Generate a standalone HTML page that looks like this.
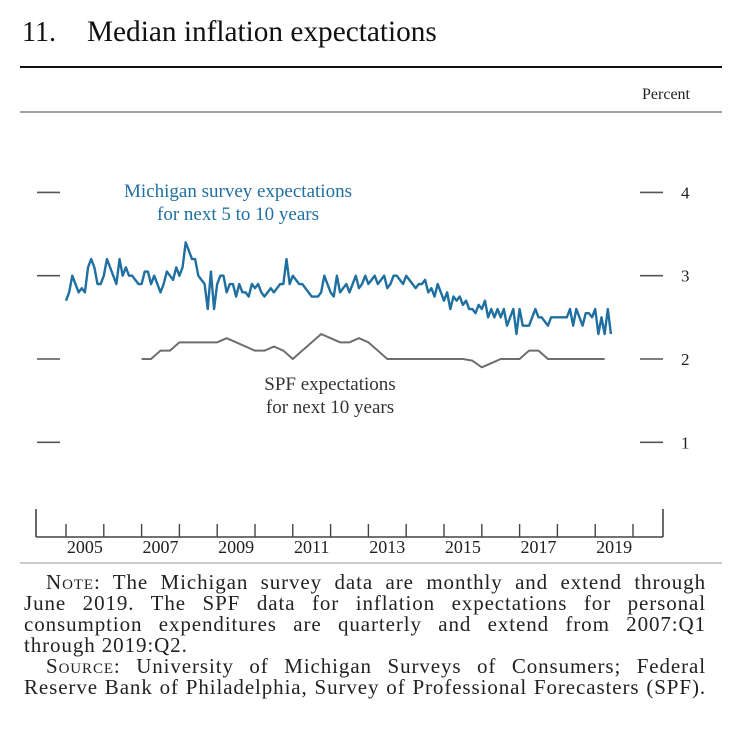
<!DOCTYPE html>
<html><head><meta charset="utf-8"><style>
body{margin:0;background:#fff;width:742px;height:742px;overflow:hidden;font-family:"Liberation Serif",serif;}
#note{position:absolute;left:24px;top:572px;width:682px;font-size:21px;line-height:21px;letter-spacing:0.9px;color:#222;}
#note div{text-align:justify;text-align-last:justify;white-space:nowrap;}
#note div.ind{padding-left:22px;}
#note div.last{text-align-last:left;}
.sc{font-variant:small-caps;}
</style></head><body>
<svg width="742" height="742" style="position:absolute;left:0;top:0">
<text x="22" y="41" font-size="28" fill="#111" font-family="Liberation Serif">11.</text>
<text x="87" y="41" font-size="29.3" fill="#111" font-family="Liberation Serif">Median inflation expectations</text>
<line x1="20" y1="67" x2="722" y2="67" stroke="#111" stroke-width="2"/>
<line x1="20" y1="112" x2="722" y2="112" stroke="#444" stroke-width="1"/>
<text x="690" y="99" font-size="16" text-anchor="end" fill="#222">Percent</text>
<g id="yaxis"></g>
<g id="xaxis"></g>
<g id="series"></g>
<text x="238" y="197" font-size="19" text-anchor="middle" fill="#1f6fa0">Michigan survey expectations</text>
<text x="238" y="220" font-size="19" text-anchor="middle" fill="#1f6fa0">for next 5 to 10 years</text>
<text x="330" y="390" font-size="19" text-anchor="middle" fill="#333">SPF expectations</text>
<text x="330" y="413" font-size="19" text-anchor="middle" fill="#333">for next 10 years</text>
<line x1="20" y1="563" x2="722" y2="563" stroke="#bbb" stroke-width="1.5"/>
</svg>
<div id="note">
<div class="ind"><span class="sc">Note</span>: The Michigan survey data are monthly and extend through</div>
<div>June 2019. The SPF data for inflation expectations for personal</div>
<div>consumption expenditures are quarterly and extend from 2007:Q1</div>
<div class="last">through 2019:Q2.</div>
<div class="ind"><span class="sc">Source</span>: University of Michigan Surveys of Consumers; Federal</div>
<div>Reserve Bank of Philadelphia, Survey of Professional Forecasters (SPF).</div>
</div>
<script>
const yTicks=[1,2,3,4];
const yearLabels=[2005,2007,2009,2011,2013,2015,2017,2019];
const michigan=[
2.7,2.8,3.0,2.9,2.8,2.85,2.8,3.1,3.2,3.1,2.9,2.9,
3.0,3.2,3.1,3.0,2.9,3.2,3.0,3.1,3.0,3.0,2.95,2.9,
2.9,3.05,3.05,2.9,3.0,2.9,2.8,2.9,3.05,3.0,2.95,3.1,
3.0,3.1,3.4,3.3,3.2,3.2,3.0,2.95,2.9,2.6,3.05,2.6,
2.9,3.0,3.0,2.8,2.9,2.9,2.75,2.9,2.8,2.8,2.75,2.9,
2.85,2.9,2.8,2.75,2.8,2.85,2.8,2.85,2.9,2.9,3.2,2.9,
3.0,2.95,2.9,2.9,2.85,2.8,2.75,2.75,2.75,2.8,3.0,2.9,
2.8,2.75,3.0,2.8,2.85,2.9,2.8,2.9,3.0,2.85,2.9,3.0,
2.9,2.95,3.0,2.9,2.95,3.0,2.85,2.9,3.0,3.0,2.95,2.9,
3.0,2.95,2.9,2.85,2.9,2.9,2.95,2.8,2.85,2.75,2.9,2.8,
2.7,2.8,2.6,2.75,2.7,2.75,2.65,2.7,2.6,2.6,2.55,2.65,
2.6,2.7,2.5,2.6,2.5,2.6,2.5,2.6,2.4,2.5,2.6,2.3,
2.6,2.4,2.4,2.4,2.5,2.6,2.5,2.5,2.45,2.4,2.5,2.5,
2.5,2.5,2.5,2.5,2.6,2.4,2.6,2.5,2.4,2.55,2.55,2.5,
2.6,2.3,2.5,2.3,2.6,2.3];
const spf=[
2.0,2.0,2.1,2.1, 2.2,2.2,2.2,2.2, 2.2,2.25,2.2,2.15, 2.1,2.1,2.15,2.1,
2.0,2.1,2.2,2.3, 2.25,2.2,2.2,2.25, 2.2,2.1,2.0,2.0, 2.0,2.0,2.0,2.0,
2.0,2.0,2.0,1.98, 1.9,1.95,2.0,2.0, 2.0,2.1,2.1,2.0, 2.0,2.0,2.0,2.0, 2.0,2.0];
const NS='http://www.w3.org/2000/svg';
function X(t){return 66+(t-2005)*37.8;}
function Y(v){return 359-(v-2)*83.3;}
function mk(tag,attrs,parent){const e=document.createElementNS(NS,tag);for(const k in attrs)e.setAttribute(k,attrs[k]);parent.appendChild(e);return e;}
const ya=document.getElementById('yaxis');
yTicks.forEach(v=>{
  let l=mk('line',{x1:37,x2:60,y1:Y(v),y2:Y(v),stroke:'#555','stroke-width':1.6},ya);
  
  
  let r=mk('line',{x1:640,x2:663,y1:Y(v),y2:Y(v),stroke:'#555','stroke-width':1.6},ya);
  
  
  let t=mk('text',{x:681,y:Y(v)+6,'font-size':17,fill:'#222'},ya);t.textContent=v;
  
  
});
const xa=document.getElementById('xaxis');
let base=mk('line',{x1:36,x2:663,y1:537,y2:537,stroke:'#444','stroke-width':1.6},xa);


[36,663].forEach((x,i)=>{let e=mk('line',{x1:x,x2:x,y1:537,y2:509,stroke:'#444','stroke-width':1.6},xa);

});
for(let y=2005;y<=2020;y++){let e=mk('line',{x1:X(y),x2:X(y),y1:537,y2:524,stroke:'#444','stroke-width':1.4},xa);

}
yearLabels.forEach(y=>{let t=mk('text',{x:X(y+0.5),y:553,'font-size':18,'text-anchor':'middle',fill:'#222'},xa);t.textContent=y;

});
const sg=document.getElementById('series');
let p1=mk('polyline',{points:michigan.map((v,i)=>X(2005+i/12)+','+Y(v)).join(' '),fill:'none',stroke:'#1f6fa0','stroke-width':2.4,'stroke-linejoin':'round'},sg);


let p2=mk('polyline',{points:spf.map((v,i)=>X(2007+i/4)+','+Y(v)).join(' '),fill:'none',stroke:'#6e6e6e','stroke-width':2,'stroke-linejoin':'round'},sg);


</script>
</body></html>
